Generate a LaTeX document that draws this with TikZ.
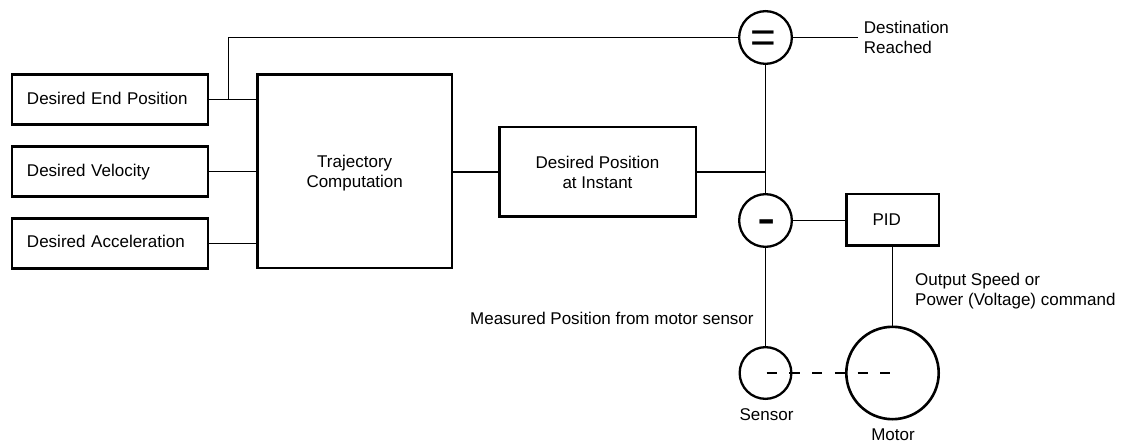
\documentclass[tikz,border=0pt]{standalone}
\usepackage{fontspec}
\setmainfont{Liberation Sans}
\begin{document}
\begin{tikzpicture}[x=1pt,y=-1pt,
  every node/.style={font=\fontsize{17}{20}\selectfont, inner sep=0pt},
  inbox/.style={draw, line width=2.5pt, minimum height=50pt, text width=166pt, inner xsep=15pt, align=left, text height=12.3pt, text depth=3.6pt},
  blk/.style={draw, line width=2.5pt, align=center},
  circ/.style={draw, circle, line width=2.3pt},
  wire/.style={line width=1.3pt},
  lbl/.style={align=left},
]
\useasboundingbox (0,0) rectangle (1123,443);

% input boxes
\node[inbox] (dep) at (110,99.7) {Desired End Position};
\node[inbox] (dvel) at (110,171.7) {Desired Velocity};
\node[inbox] (dacc) at (110,243.3) {Desired Acceleration};

% processing blocks
\node[blk, minimum width=194.8pt, minimum height=193.5pt, text depth=0pt] (traj) at (354.7,171.3) {Trajectory\\Computation};
\node[blk, minimum width=196.5pt, minimum height=89.5pt] (dpos) at (597.5,172) {Desired Position\\at Instant};
\node[blk, minimum width=92.5pt, minimum height=51.5pt] (pid) at (892.5,220) {PID\hspace*{11.6pt}};

% circles
\node[circ, minimum size=52.7pt] (eq) at (765.5,37.5) {};
\node[circ, minimum size=52.7pt] (minus) at (765.5,220.5) {};
\node[circ, minimum size=51.7pt] (sensor) at (765.5,373) {};
\node[circ, line width=2.6pt, minimum size=92.4pt] (motor) at (892.5,373) {};

% signs
\node[font=\fontsize{44}{44}\selectfont, anchor=base] (eqsign) at (763.8,52.2) {=};
\node[font=\fontsize{55}{55}\selectfont, anchor=base] (minussign) at (766.3,236.3) {-};

% connectors
\coordinate (J) at (228.3,99.7);
\coordinate (K) at (765.5,172);
\coordinate (dr) at (858,37.5);
\draw[wire] (dep.east) -- (dep.east -| traj.west);
\draw[wire] (dvel.east) -- (dvel.east -| traj.west);
\draw[wire] (dacc.east) -- (dacc.east -| traj.west);
\draw[wire] (J) |- (eq.west);
\draw[wire] (traj.east |- dpos.west) -- (dpos.west);
\draw[wire] (dpos.east) -- (K);
\draw[wire] (eq.south) -- (minus.north);
\draw[wire] (eq.east) -- (dr);
\draw[wire] (minus.east) -- (minus.east -| pid.west);
\draw[wire] (pid.south) -- (motor.north);
\draw[wire] (minus.south) -- (sensor.north);
\draw[wire, dash pattern=on 10.3pt off 12.4pt] ([xshift=1.2pt]sensor.center) -- ([xshift=-2.5pt]motor.center);

% labels
\node[lbl, anchor=north west] (dest) at (863.7,21) {Destination\\Reached};
\node[lbl, anchor=north west] (outp) at (915,273.2) {Output Speed or\\Power (Voltage) command};
\node[anchor=base east] (meas) at (753.8,324) {Measured Position from motor sensor};
\node[anchor=base] (sensl) at (766.5,420) {Sensor};
\node[anchor=base] (motl) at (893,440) {Motor};
\end{tikzpicture}
\end{document}
